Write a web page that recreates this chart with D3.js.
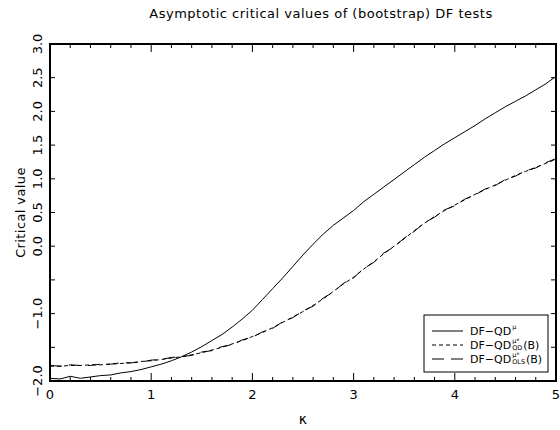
<!DOCTYPE html>
<html><head><meta charset="utf-8">
<script src="https://cdn.jsdelivr.net/npm/d3@7"></script>
<style>body{margin:0;background:#fff}svg{display:block}text{font-family:"DejaVu Sans",sans-serif;fill:#000}</style>
</head><body><svg id="c" width="560" height="430"></svg>
<script>
const kappa = d3.range(0, 51).map(i => +(i / 10).toFixed(1));
const dfQD = [-1.96,-1.97,-1.93,-1.96,-1.94,-1.92,-1.91,-1.88,-1.86,-1.83,-1.79,-1.75,-1.70,-1.64,-1.57,-1.49,-1.40,-1.31,-1.20,-1.08,-0.95,-0.79,-0.63,-0.47,-0.30,-0.13,0.03,0.18,0.31,0.42,0.53,0.66,0.77,0.88,0.99,1.10,1.21,1.32,1.42,1.52,1.61,1.70,1.79,1.89,1.98,2.07,2.15,2.23,2.32,2.41,2.52];
const dfQDbootQD = [-1.78,-1.78,-1.77,-1.77,-1.76,-1.76,-1.75,-1.74,-1.73,-1.71,-1.70,-1.68,-1.66,-1.64,-1.61,-1.58,-1.54,-1.50,-1.45,-1.40,-1.34,-1.28,-1.21,-1.13,-1.05,-0.97,-0.88,-0.78,-0.67,-0.56,-0.46,-0.34,-0.23,-0.11,0.00,0.11,0.23,0.34,0.44,0.53,0.61,0.69,0.77,0.84,0.91,0.98,1.05,1.11,1.17,1.23,1.29];
const dfQDbootOLS = [-1.77,-1.78,-1.76,-1.77,-1.77,-1.75,-1.75,-1.73,-1.73,-1.72,-1.69,-1.68,-1.65,-1.64,-1.62,-1.57,-1.55,-1.49,-1.46,-1.39,-1.35,-1.27,-1.22,-1.12,-1.06,-0.96,-0.89,-0.77,-0.68,-0.55,-0.47,-0.33,-0.24,-0.10,-0.01,0.12,0.22,0.35,0.43,0.54,0.60,0.70,0.76,0.85,0.90,0.99,1.04,1.12,1.16,1.24,1.30];
const xTicks = [0,1,2,3,4,5];
const xMinor = d3.range(0, 26).map(i => i / 5);
const yTicks = [-2,-1.5,-1,-0.5,0,0.5,1,1.5,2,2.5,3];
const yLabels = ["\u22122.0","","\u22121.0","","0.0","0.5","1.0","1.5","2.0","2.5","3.0"];
const seriesNames = ["DF\u2212QD", "DF\u2212QD", "DF\u2212QD"];
const seriesSup = ["\u03bc", "\u03bc*", "\u03bc*"];
const seriesSub = ["", "QD", "OLS"];
const seriesTail = ["", "(B)", "(B)"];
const title = "Asymptotic critical values of (bootstrap) DF tests";
const yTitle = "Critical value";
const xTitle = "\u03ba";

const svg = d3.select("#c");
const L = 50, R = 556, T = 44, B = 381;
const x = d3.scaleLinear().domain([0, 5]).range([L, R]);
const y = d3.scaleLinear().domain([-2, 3]).range([B, T]);

const dashes = [null, "4,3", "12,7"];
const data = [dfQD, dfQDbootQD, dfQDbootOLS];
const line = d3.line().x((d, i) => x(kappa[i])).y(d => y(d));
const plot = svg.append("g");
data.forEach((s, k) => {
  plot.append("path").attr("d", line(s)).attr("fill", "none").attr("stroke", "#000")
    .attr("stroke-width", 1).attr("stroke-dasharray", dashes[k]);
});

// frame
svg.append("rect").attr("x", L).attr("y", T).attr("width", R - L).attr("height", B - T)
  .attr("fill", "none").attr("stroke", "#000").attr("stroke-width", 2);

// x ticks (inward) bottom and top
const gx = svg.append("g").attr("stroke", "#000").attr("stroke-width", 1);
xMinor.forEach(v => {
  const major = Math.abs(v - Math.round(v)) < 1e-9;
  const len = major ? 8 : 4;
  gx.append("line").attr("x1", x(v)).attr("x2", x(v)).attr("y1", B).attr("y2", B - len);
  gx.append("line").attr("x1", x(v)).attr("x2", x(v)).attr("y1", T).attr("y2", T + len);
});
svg.append("g").selectAll("text").data(xTicks).join("text")
  .attr("x", d => x(d)).attr("y", B + 18).attr("text-anchor", "middle")
  .attr("font-size", 13).text(d => d);

// y ticks
const gy = svg.append("g").attr("stroke", "#000").attr("stroke-width", 1);
yTicks.forEach(v => {
  gy.append("line").attr("x1", L).attr("x2", L + 5).attr("y1", y(v)).attr("y2", y(v));
  gy.append("line").attr("x1", R).attr("x2", R - 5).attr("y1", y(v)).attr("y2", y(v));
});
svg.append("g").selectAll("text").data(yTicks).join("text")
  .attr("transform", d => `translate(42,${y(d)}) rotate(-90)`)
  .attr("text-anchor", "middle").attr("font-size", 13).text((d, i) => yLabels[i]);

// titles
svg.append("text").attr("x", (L + R) / 2 + 18).attr("y", 18).attr("text-anchor", "middle")
  .attr("font-size", 13).attr("letter-spacing", 0.5).text(title);
svg.append("text").attr("transform", `translate(25,${(T + B) / 2}) rotate(-90)`)
  .attr("text-anchor", "middle").attr("font-size", 13).attr("letter-spacing", 0.4).text(yTitle);
svg.append("text").attr("x", (L + R) / 2).attr("y", 424).attr("text-anchor", "middle")
  .attr("font-size", 14).text(xTitle);

// legend
const lg = svg.append("g");
lg.append("rect").attr("x", 424).attr("y", 315).attr("width", 124).attr("height", 57)
  .attr("fill", "#fff").attr("stroke", "#000").attr("stroke-width", 1);
const ly = [331, 345, 359];
seriesNames.forEach((n, k) => {
  lg.append("line").attr("x1", 432).attr("x2", 463).attr("y1", ly[k]).attr("y2", ly[k])
    .attr("stroke", "#000").attr("stroke-width", 1).attr("stroke-dasharray", dashes[k]);
  const main = lg.append("text").attr("x", 470).attr("y", ly[k] + 4).attr("font-size", 11).text(n);
  const x0 = 470 + main.node().getComputedTextLength() + 1;
  const sup = lg.append("text").attr("x", x0).attr("y", ly[k] - 2).attr("font-size", 6.5).text(seriesSup[k]);
  let w = sup.node().getComputedTextLength();
  if (seriesSub[k]) {
    const sub = lg.append("text").attr("x", x0).attr("y", ly[k] + 5).attr("font-size", 6.5).text(seriesSub[k]);
    w = Math.max(w, sub.node().getComputedTextLength());
    lg.append("text").attr("x", x0 + w + 1).attr("y", ly[k] + 4).attr("font-size", 11).text(seriesTail[k]);
  }
});
</script></body></html>
